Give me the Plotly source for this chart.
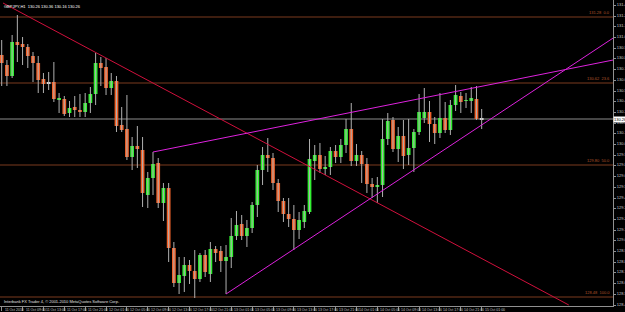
import plotly.graph_objects as go
import pandas as pd

symbol = "GBPJPY,H1"
start_time = "2010-10-11 05:00"

opens = [130.90,130.80,130.69,131.03,131.01,130.98,130.89,130.82,130.66,130.62,
130.63,130.45,130.46,130.32,130.38,130.35,130.33,130.42,130.51,130.82,
130.78,130.57,130.64,130.20,130.16,129.88,129.99,129.95,129.50,129.67,
129.82,129.42,129.57,128.97,128.62,128.69,128.80,128.74,128.66,128.90,
128.71,128.96,128.94,128.84,128.88,129.09,129.21,129.09,129.17,129.40,
129.75,129.90,129.87,129.62,129.44,129.31,129.26,129.15,129.23,129.33,
129.84,129.90,129.76,129.78,129.94,129.88,130.00,130.16,129.84,129.90,
129.81,129.61,129.58,129.60,130.06,130.25,129.96,130.09,129.90,129.97,
130.13,130.27,130.33,130.21,130.12,130.27,130.15,130.40,130.49,130.44,
130.44,130.46,130.26]

highs = [131.05,130.85,131.10,131.30,131.08,131.01,130.93,130.89,130.72,130.73,
130.83,130.52,130.49,130.44,130.49,130.51,130.52,130.58,130.92,130.88,
130.87,130.72,130.69,130.38,130.50,130.08,130.19,130.08,129.73,129.93,
129.87,129.62,129.62,129.03,128.88,128.88,128.85,128.95,128.92,128.95,
129.03,128.99,128.99,129.00,129.27,129.34,129.30,129.25,129.43,129.80,
129.98,130.07,129.92,129.66,129.47,129.47,129.40,129.33,129.40,130.06,
130.00,130.02,129.89,129.98,130.00,130.06,130.26,130.42,130.01,129.94,
129.87,129.67,129.68,130.26,130.32,130.28,130.18,130.25,130.26,130.16,
130.51,130.57,130.44,130.28,130.52,130.43,130.45,130.60,130.53,130.52,
130.58,130.59,130.36]

lows = [130.59,130.59,130.67,130.83,130.80,130.77,130.63,130.52,130.52,130.55,
130.43,130.32,130.29,130.28,130.28,130.28,130.28,130.32,130.40,130.59,
130.50,130.50,130.13,130.13,129.85,129.75,129.77,129.38,129.37,129.50,
129.37,129.24,128.83,128.58,128.51,128.53,128.61,128.47,128.63,128.68,
128.63,128.83,128.73,128.51,128.77,129.05,129.05,128.98,129.12,129.28,
129.60,129.73,129.55,129.33,129.23,129.18,128.95,129.06,129.17,129.31,
129.65,129.72,129.70,129.70,129.82,129.82,129.92,129.79,129.79,129.62,
129.52,129.47,129.42,129.48,130.00,129.93,129.83,129.76,129.80,129.73,
130.10,130.22,130.03,130.01,130.07,130.12,130.10,130.34,130.32,130.37,
130.32,130.25,130.16]

closes = [130.82,130.69,131.03,131.00,130.98,130.89,130.82,130.65,130.61,130.62,
130.46,130.47,130.31,130.37,130.35,130.33,130.42,130.51,130.82,130.77,
130.57,130.64,130.19,130.15,129.88,129.99,129.96,129.52,129.67,129.81,
129.42,129.57,128.97,128.62,128.70,128.80,128.74,128.66,128.90,128.73,
128.96,128.92,128.84,128.88,129.09,129.20,129.09,129.17,129.40,129.75,
129.90,129.87,129.62,129.44,129.31,129.26,129.15,129.25,129.34,129.86,
129.90,129.76,129.78,129.94,129.88,130.00,130.16,129.84,129.90,129.81,
129.61,129.58,129.60,130.06,130.24,129.96,130.09,129.89,129.97,130.13,
130.33,130.33,130.21,130.12,130.27,130.15,130.40,130.50,130.43,130.45,
130.47,130.26,130.26]

price_ticks = [131.40,131.29,131.19,131.08,130.97,130.87,130.76,130.65,130.54,130.44,
130.33,130.22,130.12,130.01,129.90,129.80,129.69,129.58,129.47,129.37,
129.26,129.15,129.05,128.94,128.83,128.73,128.62,128.51,128.40]

fib_prices = [131.28, 130.62, 129.80, 128.48]
fib_levels = ["0.0", "23.6", "50.0", "100.0"]

# trend lines: (bar index, price) anchors
red_line = ([0.25, 108.7], [131.42, 128.40])
upper_line = ([29.0, 117.2], [129.93, 130.85])
lower_line = ([43.0, 117.2], [128.51, 131.07])

BULL = "#30f030"
BEAR = "#f2622a"
DOJI = "#d8d8d8"
WICK = "#b0b0b0"
TXT = "#c8c8c8"
FONT = "Liberation Sans"

n = len(opens)
idx = list(range(n))
times = pd.date_range(start_time, periods=n, freq="h")

fig = go.Figure()

# wicks
wx, wy = [], []
for i in idx:
    wx += [i, i, None]
    wy += [lows[i], highs[i], None]
fig.add_trace(go.Scatter(x=wx, y=wy, mode="lines", line=dict(color=WICK, width=1),
                         hoverinfo="skip"))

# bodies
bases, heights, colors = [], [], []
for o, c in zip(opens, closes):
    lo = min(o, c)
    h = abs(c - o)
    bases.append(lo if h > 0 else lo - 0.005)
    heights.append(max(h, 0.01))
    colors.append(BULL if c > o else (BEAR if c < o else DOJI))
fig.add_trace(go.Bar(x=idx, y=heights, base=bases, width=0.72,
                     marker=dict(color=colors, line=dict(width=0))))

# trend lines
fig.add_trace(go.Scatter(x=red_line[0], y=red_line[1], mode="lines",
                         line=dict(color="#d0103c", width=1)))
fig.add_trace(go.Scatter(x=upper_line[0], y=upper_line[1], mode="lines",
                         line=dict(color="#dd22dd", width=1)))
fig.add_trace(go.Scatter(x=lower_line[0], y=lower_line[1], mode="lines",
                         line=dict(color="#dd22dd", width=1)))

# fib / horizontal levels
for p, lv in zip(fib_prices, fib_levels):
    fig.add_shape(type="line", xref="paper", x0=0, x1=1, yref="y", y0=p, y1=p,
                  line=dict(color="#7a3a1e", width=1), layer="below")
    fig.add_annotation(xref="paper", x=0.998, yref="y", y=p, text=f"{p:.2f}  {lv}",
                       showarrow=False, xanchor="right", yanchor="bottom",
                       font=dict(size=4, color="#b0542a", family=FONT))

# bid line
last = closes[-1]
fig.add_shape(type="line", xref="paper", x0=0, x1=1, yref="y", y0=last, y1=last,
              line=dict(color="#8c8c8c", width=1), layer="below")
fig.add_annotation(xref="paper", x=1.0, yref="y", y=last, text=f"{last:.2f}",
                   showarrow=False, xanchor="left", yanchor="middle",
                   bgcolor="#ffffff", font=dict(size=4, color="#000000", family=FONT),
                   borderpad=0)

# header & copyright
fig.add_annotation(xref="paper", x=0.004, yref="paper", y=0.995,
                   text=f"{symbol}  {opens[-1]:.2f} {highs[-1]:.2f} {lows[-1]:.2f} {closes[-1]:.2f}",
                   showarrow=False, xanchor="left", yanchor="top",
                   font=dict(size=4, color="#ffffff", family=FONT))
fig.add_annotation(xref="paper", x=0.003, yref="paper", y=0.0,
                   text="Interbank FX Trader 4, © 2001-2010 MetaQuotes Software Corp.",
                   showarrow=False, xanchor="left", yanchor="bottom",
                   font=dict(size=4, color="#e0e0e0", family=FONT))

# x tick labels (left-aligned after the tick, like MetaTrader)
tick_idx = idx[::4]
tick_text = [times[0].strftime("%d %b %Y")] + [times[i].strftime("%d %b %H:%M") for i in tick_idx[1:]]
for ti, tt in zip(tick_idx, tick_text):
    fig.add_annotation(xref="x", x=ti, yref="paper", y=0, text=tt, showarrow=False,
                       xanchor="left", yanchor="middle", xshift=1, yshift=-3.5,
                       font=dict(size=3.5, color=TXT, family=FONT))

fig.update_layout(
    width=625, height=312, margin=dict(l=0, r=12, t=0, b=6),
    paper_bgcolor="#000000", plot_bgcolor="#000000",
    showlegend=False, barmode="overlay", template="none",
    xaxis=dict(range=[-0.326, 117.17], tickvals=tick_idx, showticklabels=False,
               showgrid=False, zeroline=False,
               showline=True, linecolor="#909090", linewidth=1,
               ticks="outside", ticklen=4, tickcolor="#909090", automargin=False),
    yaxis=dict(range=[128.39, 131.45], side="right", tickvals=price_ticks,
               ticktext=[f"{v:.2f}" for v in price_ticks], showgrid=False, zeroline=False,
               showline=True, linecolor="#909090", linewidth=1,
               ticks="outside", ticklen=2, tickcolor="#909090", automargin=False,
               tickfont=dict(size=4, color=TXT, family=FONT)),
)

fig.write_html("out.html")
